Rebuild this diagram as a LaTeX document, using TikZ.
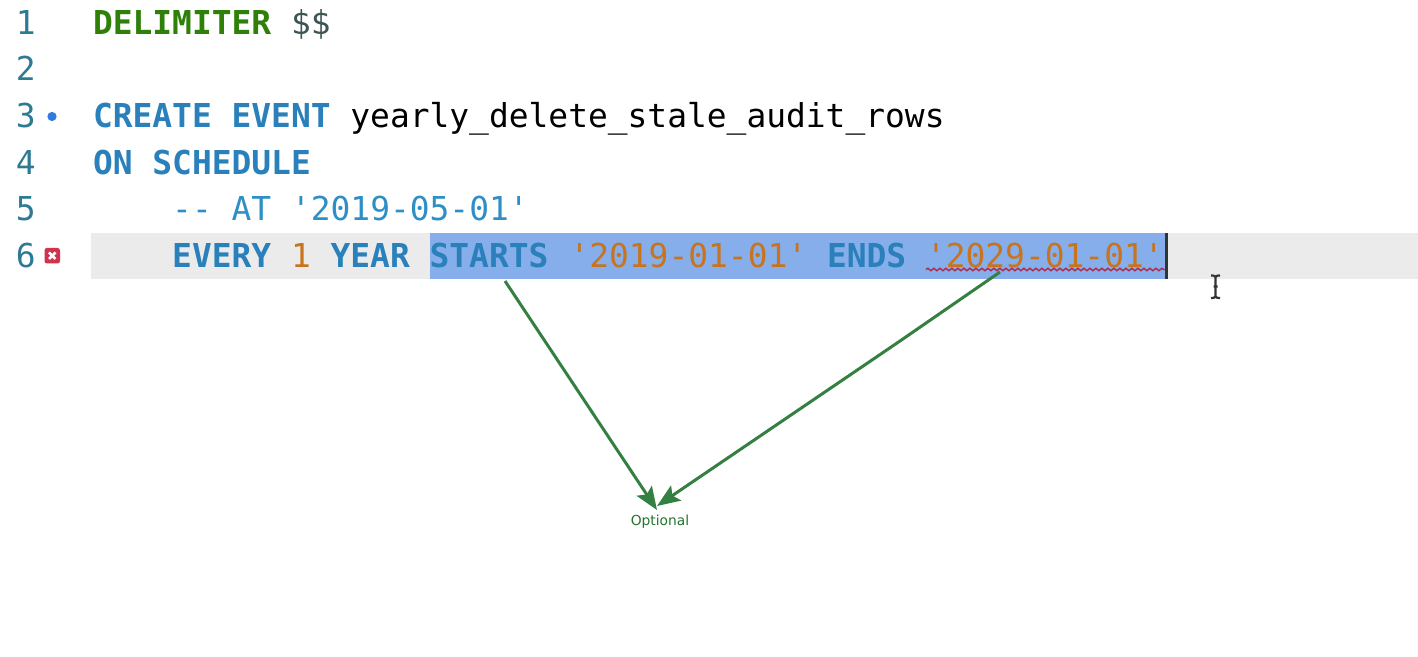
\documentclass[tikz,border=0pt]{standalone}
\usepackage{fontspec}
\setmonofont{DejaVu Sans Mono}
\setsansfont{DejaVu Sans}
\usetikzlibrary{arrows.meta,decorations.pathmorphing}
\definecolor{numc}{HTML}{2E7A94}
\definecolor{kwgreen}{HTML}{2E8008}
\definecolor{kwblue}{HTML}{2A80BA}
\definecolor{cmt}{HTML}{2E8FC6}
\definecolor{lit}{HTML}{C8741E}
\definecolor{dollar}{HTML}{3D5555}
\definecolor{linebg}{HTML}{EBEBEB}
\definecolor{selbg}{HTML}{86AEEA}
\definecolor{arrowc}{HTML}{347F42}
\definecolor{errc}{HTML}{D0334F}
\definecolor{dotc}{HTML}{2F7BE0}
\definecolor{squig}{HTML}{B0284A}
\newcommand{\col}[1]{\fpeval{93+19.8*(#1)}}
\tikzset{
  x=0.5pt,y=-0.5pt,
  code/.style={anchor=base west,inner sep=0pt,outer sep=0pt,font=\ttfamily\fontsize{16.45}{18}\selectfont},
  kwg/.style={code,text=kwgreen,font=\ttfamily\bfseries\fontsize{16.45}{18}\selectfont},
  kw/.style={code,text=kwblue,font=\ttfamily\bfseries\fontsize{16.45}{18}\selectfont},
  num/.style={code,text=numc},
  arrowline/.style={draw=arrowc,line width=1.5pt,-{Stealth[length=11.5pt,width=9pt,inset=2.2pt]}},
}
\begin{document}
\begin{tikzpicture}
\useasboundingbox (0,0) rectangle (1418,657);
\fill[white] (0,0) rectangle (1418,657);
\fill[linebg] (91,233) rectangle (1418,279);
\node[inner sep=0pt,fill=selbg,minimum width=367.5pt,minimum height=23pt,anchor=north west] (sel) at (430,233) {};
\fill[black!80] (1165,233) rectangle (1167.5,279);
% line numbers
\node[num] (n1) at (16,35) {1};
\node[num] (n2) at (16,81) {2};
\node[num] (n3) at (16,128) {3};
\node[num] (n4) at (16,174.5) {4};
\node[num] (n5) at (16,221) {5};
\node[num] (n6) at (16,267.5) {6};
% gutter marks
\fill[dotc] (52,116.5) circle (4.6);
\fill[errc,rounded corners=1.2pt] (44.5,248) rectangle (60,263.5);
\draw[white,line width=1.3pt] (49,252.5) -- (55.5,259) (55.5,252.5) -- (49,259);
% code
\node[kwg] (delim) at (\col{0},35) {DELIMITER};
\node[code,text=dollar] (dd) at (\col{10},35) {\$\$};
\node[kw] (create) at (\col{0},128) {CREATE};
\node[kw] (event) at (\col{7},128) {EVENT};
\node[code,text=black] (name) at (\col{13},128) {yearly\_delete\_stale\_audit\_rows};
\node[kw] (on) at (\col{0},174.5) {ON};
\node[kw] (sched) at (\col{3},174.5) {SCHEDULE};
\node[code,text=cmt] (comment) at (\col{4},221) {-- AT '2019-05-01'};
\node[kw] (every) at (\col{4},267.5) {EVERY};
\node[code,text=lit] (one) at (\col{10},267.5) {1};
\node[kw] (year) at (\col{12},267.5) {YEAR};
\node[kw] (starts) at (\col{17},267.5) {STARTS};
\node[code,text=lit] (d1) at (569.5,267.5) {'2019-01-01'};
\node[kw] (ends) at (827,267.5) {ENDS};
\node[code,text=lit] (d2) at (926,267.5) {'2029-01-01'};
% squiggle
\draw[squig,line width=0.7pt,decorate,decoration={snake,amplitude=0.6pt,segment length=3pt}] (926,269.5) -- (1165,269.5);
% I-beam
\draw[black!80,line width=1.1pt] (1211,275.5) .. controls (1214,275.5) .. (1215.5,277) .. controls (1217,275.5) .. (1220,275.5)
  (1215.5,277) -- (1215.5,296.5)
  (1211,298) .. controls (1214,298) .. (1215.5,296.5) .. controls (1217,298) .. (1220,298)
  (1213.5,286.5) -- (1217.5,286.5);
% label and arrows
\node[inner sep=0pt,anchor=base,text=arrowc!80!black!90!green,font=\sffamily\fontsize{6.9}{8}\selectfont] (opt) at (660,525) {Optional};
\coordinate (tip) at (657,510);
\coordinate (s1) at (505,281);
\coordinate (s2) at (1000,272);
\coordinate (bend) at (900,341);
\draw[arrowline] (s1) -- (tip);
\draw[arrowline] (s2) -- (bend) -- (657,506);
\end{tikzpicture}
\end{document}
